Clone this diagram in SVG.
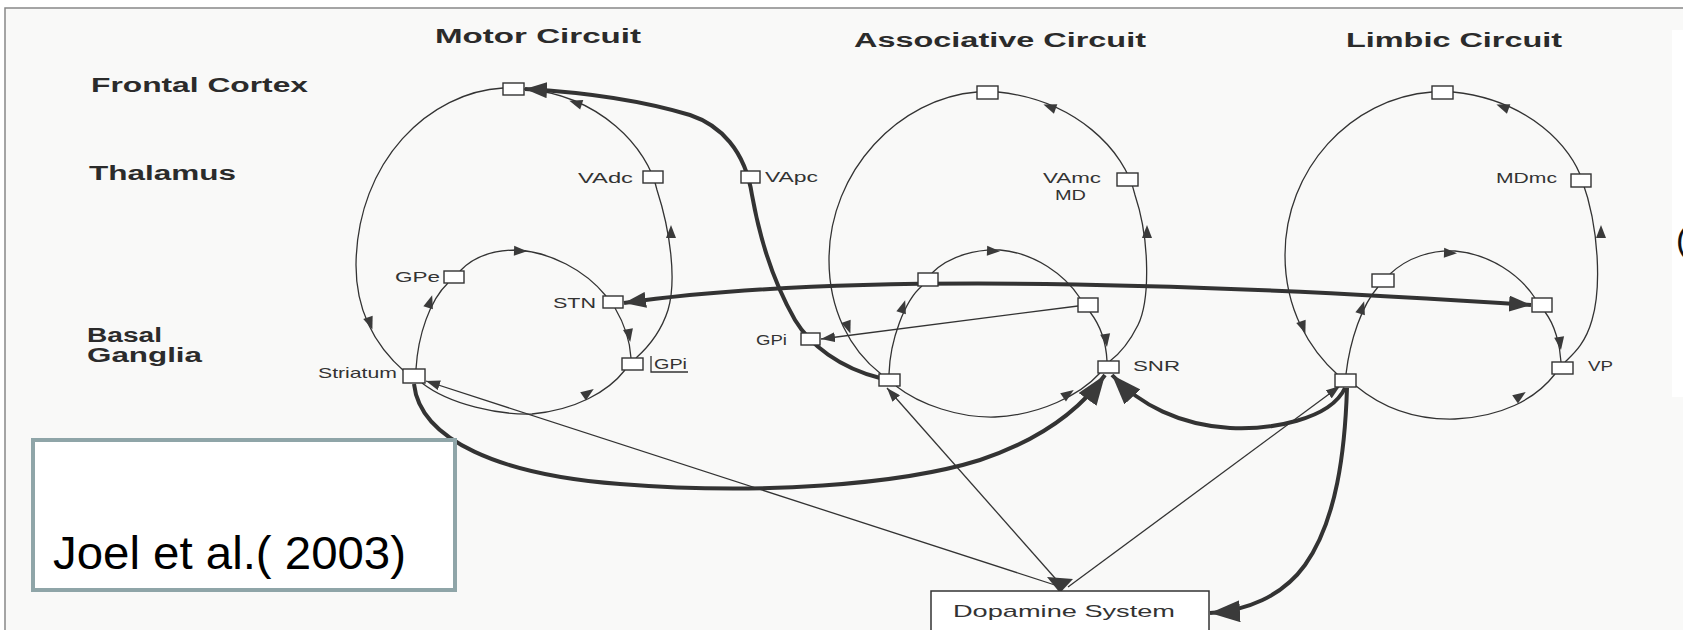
<svg xmlns="http://www.w3.org/2000/svg" xmlns:xlink="http://www.w3.org/1999/xlink" width="1683" height="630" viewBox="0 0 1683 630">
<style>
.hd{font-family:"Liberation Sans",Arial,sans-serif;font-weight:bold;font-size:20px;fill:#2b2b2b}
.lb{font-family:"Liberation Sans",Arial,sans-serif;font-size:15px;fill:#333}
.nd{fill:#fff;stroke:#333;stroke-width:1.4}
.ln{fill:none;stroke:#333;stroke-width:1.3}
.th{fill:none;stroke:#333;stroke-width:4}
.ah{fill:#3a3a3a}
</style>
<defs>
<path id="a" d="M7,0 L-6,-5 L-6,5 Z" fill="#3a3a3a"/>
<marker id="sm" viewBox="0 0 14 10" refX="14" refY="5" markerWidth="14" markerHeight="10" markerUnits="userSpaceOnUse" orient="auto-start-reverse"><path d="M0,0 L14,5 L0,10 Z" fill="#3a3a3a"/></marker>
<marker id="big" viewBox="0 0 22 16" refX="22" refY="8" markerWidth="22" markerHeight="16" markerUnits="userSpaceOnUse" orient="auto-start-reverse"><path d="M0,0 L22,8 L0,16 Z" fill="#3a3a3a"/></marker>
<marker id="huge" viewBox="0 0 30 22" refX="30" refY="11" markerWidth="30" markerHeight="22" markerUnits="userSpaceOnUse" orient="auto"><path d="M0,0 L30,11 L0,22 Z" fill="#3a3a3a"/></marker>
</defs>
<rect width="1683" height="630" fill="#fff"/>
<rect x="5" y="8" width="1690" height="640" fill="#f9f9f8" stroke="#888" stroke-width="1.5"/>
<rect x="1672" y="30" width="11" height="367" fill="#fff"/>
<text x="1676" y="251" font-family="Liberation Sans, Arial, sans-serif" font-size="34" fill="#111">(</text>

<g id="headers">
<text class="hd" x="435" y="43" textLength="206" lengthAdjust="spacingAndGlyphs">Motor  Circuit</text>
<text class="hd" x="854" y="47" textLength="292" lengthAdjust="spacingAndGlyphs">Associative  Circuit</text>
<text class="hd" x="1346" y="47" textLength="216" lengthAdjust="spacingAndGlyphs">Limbic  Circuit</text>
<text class="hd" x="91" y="92" textLength="217" lengthAdjust="spacingAndGlyphs">Frontal  Cortex</text>
<text class="hd" x="89" y="180" textLength="147" lengthAdjust="spacingAndGlyphs">Thalamus</text>
<text class="hd" x="87" y="342" textLength="75" lengthAdjust="spacingAndGlyphs">Basal</text>
<text class="hd" x="87" y="362" textLength="115" lengthAdjust="spacingAndGlyphs">Ganglia</text>
</g>

<g id="connectors">
<!-- motor circuit -->
<path class="ln" d="M503,88 C430,92 357,160 356,265 C356,320 382,352 405,372"/>
<path class="ln" d="M524,89 C600,95 648,148 657,190 C670,230 677,280 668,310 C660,335 645,350 636,358"/>
<path class="ln" d="M416,369 C418,335 430,300 448,283"/>
<path class="ln" d="M460,271 C475,255 495,250 517,250 C550,252 585,270 606,296"/>
<path class="ln" d="M615,308 C625,325 630,340 631,358"/>
<path class="ln" d="M422,383 C450,405 500,415 532,414 C575,410 608,392 625,370"/>
<!-- associative circuit -->
<path class="ln" d="M977,92 C900,98 829,170 829,260 C829,310 850,350 881,374"/>
<path class="ln" d="M998,92 C1075,100 1125,150 1135,195 C1150,240 1150,300 1138,325 C1128,345 1118,355 1110,361"/>
<path class="ln" d="M889,374 C890,340 905,300 922,286"/>
<path class="ln" d="M932,273 C950,255 978,249 1000,250 C1035,253 1065,275 1080,298"/>
<path class="ln" d="M1090,312 C1100,325 1106,340 1107,361"/>
<path class="ln" d="M896,386 C920,405 960,418 995,417 C1040,415 1080,395 1100,373"/>
<path class="ln" marker-end="url(#sm)" d="M1078,306 L821,339"/>
<!-- limbic circuit -->
<path class="ln" d="M1432,92 C1350,98 1285,170 1285,255 C1285,310 1310,350 1338,375"/>
<path class="ln" d="M1453,92 C1530,100 1572,148 1582,180 C1600,230 1601,290 1592,320 C1585,345 1572,355 1565,362"/>
<path class="ln" d="M1346,374 C1350,340 1362,305 1378,287"/>
<path class="ln" d="M1390,274 C1408,257 1432,250 1455,251 C1490,254 1520,275 1535,298"/>
<path class="ln" d="M1545,312 C1555,325 1560,345 1561,362"/>
<path class="ln" d="M1356,386 C1385,410 1420,420 1455,419 C1500,417 1535,400 1555,374"/>
<!-- dopamine lines -->
<path class="ln" stroke-width="1.6" marker-end="url(#sm)" d="M1058,586 L426,381"/>
<path class="ln" stroke-width="1.6" marker-end="url(#sm)" d="M1062,586 L887,388"/>
<path class="ln" stroke-width="1.4" marker-end="url(#sm)" d="M1068,587 L1340,386"/>
<polygon class="ah" points="1047,577 1073,579 1060,593"/>
<!-- thick pathways -->
<path class="th" stroke-width="3.8" marker-end="url(#big)" d="M880,378 C840,368 810,345 795,320 C775,285 760,240 752,195 C745,150 720,125 690,115 C640,100 580,92 525,89"/>
<path class="th" stroke-width="4" marker-start="url(#big)" marker-end="url(#big)" d="M624,303 Q900,263 1531,305"/>
<path class="th" stroke-width="4" marker-end="url(#huge)" d="M414,384 C420,440 500,475 620,484 C760,495 900,485 980,460 C1040,440 1080,410 1105,375"/>
<path class="th" stroke-width="4.5" marker-end="url(#huge)" d="M1345,388 C1330,420 1270,430 1230,428 C1180,425 1140,405 1112,375"/>
<path class="th" stroke-width="5" marker-end="url(#huge)" d="M1347,388 C1345,450 1337,520 1305,565 C1282,597 1245,611 1210,613"/>
<!-- loop arrowheads -->
<use xlink:href="#a" transform="translate(576,103) rotate(198)"/>
<use xlink:href="#a" transform="translate(671,232) rotate(-90)"/>
<use xlink:href="#a" transform="translate(370,323) rotate(70)"/>
<use xlink:href="#a" transform="translate(430,302) rotate(-72)"/>
<use xlink:href="#a" transform="translate(520,251) rotate(2)"/>
<use xlink:href="#a" transform="translate(629,335) rotate(80)"/>
<use xlink:href="#a" transform="translate(588,393) rotate(-35)"/>
<use xlink:href="#a" transform="translate(1050,107) rotate(200)"/>
<use xlink:href="#a" transform="translate(1147,232) rotate(-90)"/>
<use xlink:href="#a" transform="translate(848,327) rotate(70)"/>
<use xlink:href="#a" transform="translate(903,307) rotate(-72)"/>
<use xlink:href="#a" transform="translate(993,251) rotate(2)"/>
<use xlink:href="#a" transform="translate(1106,340) rotate(82)"/>
<use xlink:href="#a" transform="translate(1068,394) rotate(-35)"/>
<use xlink:href="#a" transform="translate(1503,107) rotate(200)"/>
<use xlink:href="#a" transform="translate(1601,232) rotate(-90)"/>
<use xlink:href="#a" transform="translate(1303,327) rotate(70)"/>
<use xlink:href="#a" transform="translate(1362,308) rotate(-72)"/>
<use xlink:href="#a" transform="translate(1450,253) rotate(2)"/>
<use xlink:href="#a" transform="translate(1560,343) rotate(82)"/>
<use xlink:href="#a" transform="translate(1520,396) rotate(-35)"/>
</g>

<g id="motor-cortex"><rect class="nd" x="503" y="83" width="21" height="12"/></g>
<g id="motor-vadc"><rect class="nd" x="643" y="171" width="20" height="12"/><text class="lb" x="578" y="183" textLength="55" lengthAdjust="spacingAndGlyphs">VAdc</text></g>
<g id="motor-gpe"><rect class="nd" x="444" y="271" width="20" height="12"/><text class="lb" x="395" y="282" textLength="45" lengthAdjust="spacingAndGlyphs">GPe</text></g>
<g id="motor-stn"><rect class="nd" x="603" y="296" width="20" height="12"/><text class="lb" x="553" y="308" textLength="43" lengthAdjust="spacingAndGlyphs">STN</text></g>
<g id="motor-gpi"><rect class="nd" x="622" y="358" width="21" height="12"/><path class="ln" d="M651,356 V372 H688"/><text class="lb" x="654" y="369" textLength="33" lengthAdjust="spacingAndGlyphs">GPi</text></g>
<g id="motor-striatum"><rect class="nd" x="403" y="369" width="22" height="14"/><text class="lb" x="318" y="378" font-size="14" textLength="79" lengthAdjust="spacingAndGlyphs">Striatum</text></g>

<g id="assoc-cortex"><rect class="nd" x="977" y="86" width="21" height="13"/></g>
<g id="assoc-vapc"><rect class="nd" x="741" y="171" width="19" height="12"/><text class="lb" x="765" y="182" textLength="53" lengthAdjust="spacingAndGlyphs">VApc</text></g>
<g id="assoc-vamc"><rect class="nd" x="1117" y="173" width="21" height="13"/><text class="lb" x="1043" y="183" textLength="58" lengthAdjust="spacingAndGlyphs">VAmc</text><text class="lb" x="1055" y="200" textLength="31" lengthAdjust="spacingAndGlyphs">MD</text></g>
<g id="assoc-gpi"><rect class="nd" x="801" y="333" width="19" height="12"/><text class="lb" x="756" y="345" textLength="31" lengthAdjust="spacingAndGlyphs">GPi</text></g>
<g id="assoc-gpe"><rect class="nd" x="918" y="273" width="20" height="13"/></g>
<g id="assoc-stn"><rect class="nd" x="1078" y="298" width="20" height="14"/></g>
<g id="assoc-striatum"><rect class="nd" x="879" y="374" width="21" height="12"/></g>
<g id="assoc-snr"><rect class="nd" x="1098" y="361" width="21" height="12"/><text class="lb" x="1133" y="371" textLength="47" lengthAdjust="spacingAndGlyphs">SNR</text></g>

<g id="limbic-cortex"><rect class="nd" x="1432" y="86" width="21" height="13"/></g>
<g id="limbic-mdmc"><rect class="nd" x="1571" y="174" width="20" height="13"/><text class="lb" x="1496" y="183" textLength="61" lengthAdjust="spacingAndGlyphs">MDmc</text></g>
<g id="limbic-gpe"><rect class="nd" x="1372" y="274" width="22" height="13"/></g>
<g id="limbic-stn"><rect class="nd" x="1532" y="298" width="20" height="14"/></g>
<g id="limbic-vp"><rect class="nd" x="1552" y="362" width="21" height="12"/><text class="lb" x="1588" y="371" textLength="25" lengthAdjust="spacingAndGlyphs">VP</text></g>
<g id="limbic-striatum"><rect class="nd" x="1335" y="374" width="21" height="13"/></g>

<g id="dopamine"><rect x="931" y="591" width="278" height="50" fill="#fff" stroke="#333" stroke-width="1.5"/><text x="953" y="617" font-family="Liberation Sans, Arial, sans-serif" font-size="17" fill="#333" textLength="222" lengthAdjust="spacingAndGlyphs">Dopamine System</text></g>

<g id="citation"><rect x="33" y="440" width="422" height="150" fill="#fff" stroke="#8fa5a8" stroke-width="4"/><text x="53" y="569" font-family="Liberation Sans, Arial, sans-serif" font-size="46" fill="#000" textLength="353" lengthAdjust="spacingAndGlyphs">Joel et al.( 2003)</text></g>
</svg>
